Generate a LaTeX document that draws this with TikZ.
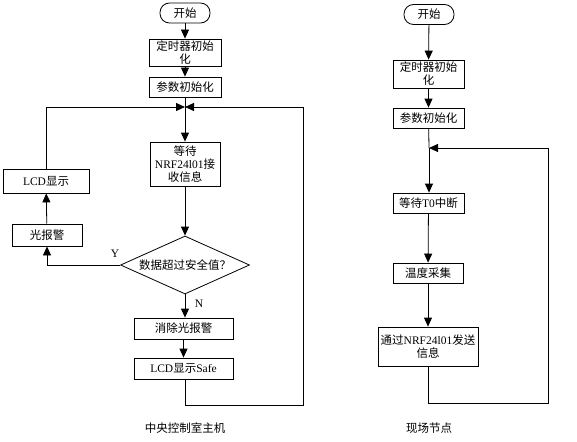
\documentclass[tikz,border=0pt]{standalone}
\usepackage{fontspec}
\setmainfont{Liberation Serif}
\newfontfamily\cjk{Noto Sans CJK SC}
\newcommand{\zh}[1]{{\cjk #1}}
\usetikzlibrary{shapes.geometric,arrows.meta}
\begin{document}
\begin{tikzpicture}[x=1pt,y=-1pt,
  font=\fontsize{11.5}{14}\selectfont,
  line width=0.8pt,
  box/.style={draw,rectangle,align=center,inner sep=0pt},
  term/.style={draw,rectangle,rounded corners=9.5pt,inner sep=0pt,minimum width=50pt,minimum height=20pt},
  arr/.style={-{Triangle[length=9pt,width=8pt]}},
  lbl/.style={inner sep=0pt}]
\useasboundingbox (0,0) rectangle (577,441);
% ---------- left chart ----------
\node[term] (s1) at (185,13) {\zh{开始}};
\node[box,minimum width=72pt,minimum height=27pt] (a1) at (185,52.5) {\zh{定时器初始}\\[-1pt]\zh{化}};
\node[box,minimum width=72pt,minimum height=20pt] (a2) at (185,87) {\zh{参数初始化}};
\coordinate (j1) at (185,107);
\node[box,minimum width=70pt,minimum height=44pt] (a3) at (185,164) {\zh{等待}\\[-1pt]NRF24l01\zh{接}\\[-1pt]\zh{收信息}};
\node[box,minimum width=86pt,minimum height=24pt] (lcd) at (46,181) {LCD\zh{显示}};
\node[box,minimum width=70pt,minimum height=22pt] (alm) at (47,235) {\zh{光报警}};
\node[draw,diamond,aspect=2.2,inner sep=0pt,minimum width=129pt,minimum height=58pt] (dia) at (185,265) {\zh{数据超过安全值？}};
\node[box,minimum width=99pt,minimum height=21pt] (clr) at (183.5,328.5) {\zh{消除光报警}};
\node[box,minimum width=99pt,minimum height=21pt] (safe) at (183.5,368.5) {LCD\zh{显示}Safe};
\coordinate (lb) at (185,405);
\coordinate (lr) at (303,405);
\coordinate (lt) at (303,107);
\coordinate (ll) at (46,107);
\node[lbl] (ly) at (115,254) {Y};
\node[lbl] (ln) at (199,304) {N};
\node (cap1) at (185,428) {\zh{中央控制室主机}};
\draw[arr] (s1) -- (a1);
\draw[arr] (a1) -- (a2);
\draw (a2) -- (j1);
\draw[arr] (j1) -- (a3);
\draw[arr] (a3) -- (dia);
\draw[arr] (dia.west) -| (alm.south);
\draw[arr] (alm) -- (lcd);
\draw[arr] (lcd.north) -- (ll) -- (j1);
\draw[arr] (dia.south) -- (dia.south |- clr.north);
\draw[arr] (clr) -- (safe);
\draw[arr] (safe.south -| lb) -- (lb) -- (lr) -- (lt) -- (j1);
% ---------- right chart ----------
\node[term] (s2) at (429,14.5) {\zh{开始}};
\node[box,minimum width=71pt,minimum height=28pt] (b1) at (428.5,74) {\zh{定时器初始}\\[-1pt]\zh{化}};
\node[box,minimum width=71pt,minimum height=20pt] (b2) at (428.5,118) {\zh{参数初始化}};
\coordinate (j2) at (429,148);
\node[box,minimum width=71pt,minimum height=20pt] (b3) at (428.5,203) {\zh{等待}T0\zh{中断}};
\node[box,minimum width=70pt,minimum height=20pt] (b4) at (428,273) {\zh{温度采集}};
\node[box,minimum width=100pt,minimum height=39pt] (b5) at (428,346.5) {\zh{通过}NRF24l01\zh{发送}\\[-1pt]\zh{信息}};
\coordinate (rb) at (428,403);
\coordinate (rr) at (548,403);
\coordinate (rt) at (548,148);
\node (cap2) at (429,428) {\zh{现场节点}};
\draw[arr] (s2) -- (b1);
\draw[arr] (b1) -- (b2);
\draw (b2) -- (j2);
\draw[arr] (j2) -- (b3.north -| j2);
\draw[arr] (b3) -- (b4);
\draw[arr] (b4) -- (b5);
\draw[arr] (b5.south) -- (rb) -- (rr) -- (rt) -- (j2);
\end{tikzpicture}
\end{document}
